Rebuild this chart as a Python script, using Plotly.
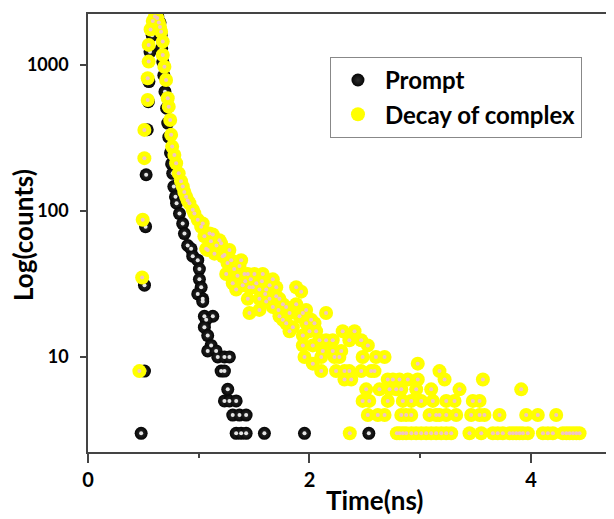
"""Fluorescence decay of the complex against the instrument prompt (log scale)."""

import plotly.graph_objects as go

# %%
# values: time in ns, counts per channel
prompt_time = [
    0.48, 0.51, 0.51, 0.52, 0.525, 0.535, 0.545, 0.55, 0.56, 0.58, 0.60, 0.63,
    0.65, 0.66, 0.665, 0.675, 0.685, 0.695, 0.71, 0.72, 0.73, 0.745, 0.755,
    0.765, 0.775, 0.79, 0.80, 0.826, 0.855, 0.871, 0.90, 0.931, 0.946, 0.991,
    1.006, 1.006, 1.022, 0.991, 1.036, 1.036, 1.051, 1.127, 1.067, 1.051,
    1.081, 1.112, 1.081, 1.157, 1.172, 1.232, 1.277, 1.202, 1.232, 1.262,
    1.232, 1.277, 1.338, 1.307, 1.368, 1.428, 1.338, 1.383, 1.428, 1.593,
    1.955, 2.536,
]
prompt_counts = [
    3, 8, 31, 78, 177, 360, 560, 770, 1230, 1600, 2000, 2150,
    1950, 1600, 1300, 1050, 850, 656, 505, 400, 320, 250, 210,
    181, 147, 125, 113, 96, 82, 70, 58, 55, 49, 46,
    40, 34, 30, 27, 25, 24, 19, 19, 18, 16,
    14, 12, 11, 11, 10, 10, 10, 8, 8, 6,
    5, 5, 5, 4, 4, 4, 3, 3, 3, 3,
    3, 3,
]

decay_time = [
    0.464, 0.489, 0.494, 0.509, 0.509, 0.539, 0.539, 0.548, 0.548, 0.565,
    0.585, 0.605, 0.625, 0.640, 0.650, 0.660, 0.675, 0.675, 0.690, 0.705,
    0.720, 0.729, 0.742, 0.751, 0.760, 0.780, 0.796, 0.819, 0.840, 0.856,
    0.870, 0.886, 0.900, 0.916, 0.946, 0.961, 0.991, 1.022, 1.036, 1.051,
    1.067, 1.081, 1.097, 1.110, 1.127, 1.142, 1.160, 1.187, 1.202, 1.217,
    1.232, 1.248, 1.260, 1.277, 1.293, 1.307, 1.320, 1.338, 1.350, 1.368,
    1.383, 1.397, 1.413, 1.420, 1.443, 1.443, 1.458, 1.458, 1.470, 1.488,
    1.503, 1.520, 1.548, 1.548, 1.548, 1.570, 1.578, 1.600, 1.609, 1.609,
    1.639, 1.640, 1.669, 1.669, 1.700, 1.700, 1.720, 1.729, 1.729, 1.759,
    1.760, 1.789, 1.790, 1.820, 1.820, 1.850, 1.880, 1.880, 1.910, 1.925,
    1.940, 1.940, 1.940, 1.955, 1.970, 1.970, 2.000, 2.015, 2.030, 2.030,
    2.045, 2.060, 2.090, 2.106, 2.106, 2.120, 2.150, 2.150, 2.210, 2.210,
    2.226, 2.240, 2.270, 2.287, 2.300, 2.316, 2.316, 2.360, 2.360, 2.364,
    2.377, 2.407, 2.467, 2.467, 2.480, 2.480, 2.512, 2.527, 2.527, 2.540,
    2.557, 2.587, 2.600, 2.617, 2.632, 2.678, 2.678, 2.707, 2.707, 2.723,
    2.753, 2.783, 2.789, 2.813, 2.813, 2.829, 2.829, 2.843, 2.843, 2.873,
    2.873, 2.888, 2.919, 2.919, 2.920, 2.963, 2.964, 2.978, 2.978, 3.009,
    3.009, 3.054, 3.084, 3.099, 3.099, 3.114, 3.144, 3.144, 3.174, 3.174,
    3.190, 3.220, 3.235, 3.235, 3.235, 3.280, 3.310, 3.325, 3.355, 3.445,
    3.460, 3.475, 3.536, 3.536, 3.551, 3.566, 3.580, 3.656, 3.700, 3.716,
    3.746, 3.807, 3.837, 3.867, 3.897, 3.912, 3.927, 3.957, 3.972, 4.062,
    4.108, 4.153, 4.198, 4.228, 4.288, 4.320, 4.349, 4.380, 4.410, 4.439,
]
decay_counts = [
    8, 35, 87, 230, 359, 576, 811, 1054, 1372, 1750,
    2000, 2150, 2100, 1950, 1820, 1690, 1445, 1170, 973, 789,
    591, 518, 420, 332, 276, 242, 212, 181, 160, 147,
    135, 125, 118, 113, 102, 96, 87, 78, 82, 67,
    55, 54, 70, 62, 69, 51, 58, 63, 60, 49,
    50, 37, 44, 54, 46, 32, 40, 29, 36, 42,
    46, 31, 37, 33, 37, 25, 30, 20, 34, 30,
    37, 32, 29, 25, 21, 33, 37, 27, 29, 24,
    25, 31, 34, 22, 30, 26, 21, 25, 19, 18,
    23, 22, 17, 15, 20, 16, 30, 23, 19, 28,
    20, 14, 12, 10, 21, 17, 15, 18, 12, 9,
    17, 15, 13, 10, 8, 11, 20, 13, 13, 11,
    10, 8, 10, 11, 15, 8, 7, 13, 8, 3,
    7, 15, 13, 8, 10, 5, 6, 12, 4, 5,
    8, 8, 10, 4, 6, 10, 4, 7, 5, 6,
    7, 6, 3, 7, 3, 6, 4, 5, 3, 4,
    3, 7, 5, 4, 3, 3, 6, 7, 9, 5,
    3, 3, 4, 6, 3, 5, 4, 3, 4, 8,
    3, 7, 5, 4, 3, 3, 5, 4, 6, 3,
    4, 5, 5, 4, 3, 7, 4, 3, 3, 4,
    3, 3, 3, 3, 3, 6, 3, 4, 3, 4,
    3, 3, 3, 4, 3, 3, 3, 3, 3, 3,
]

# %%
axis_col = "#444444"
font_family = "Lato, 'Open Sans', sans-serif"

fig = go.Figure()
fig.add_trace(
    go.Scatter(
        x=prompt_time,
        y=prompt_counts,
        mode="markers",
        name="Prompt",
        legendgroup="prompt",
        marker={
            "size": 13,
            "color": "#050505",
            "gradient": {"type": "radial", "color": "#2e2e2e"},
            "line": {"width": 0},
        },
    )
)
# small highlight so the black points read as spheres
fig.add_trace(
    go.Scatter(
        x=prompt_time,
        y=prompt_counts,
        mode="markers",
        showlegend=False,
        hoverinfo="skip",
        marker={"size": 4, "color": "#e6e6e6"},
    )
)
fig.add_trace(
    go.Scatter(
        x=decay_time,
        y=decay_counts,
        mode="markers",
        name="Decay of complex",
        legendgroup="decay",
        marker={"size": 14, "color": "#ffff00", "line": {"width": 0}},
    )
)
fig.add_trace(
    go.Scatter(
        x=decay_time,
        y=decay_counts,
        mode="markers",
        showlegend=False,
        hoverinfo="skip",
        marker={"size": 4, "color": "#f1c4c4"},
    )
)

fig.update_xaxes(
    range=[0, 4.75],
    tick0=0,
    dtick=2,
    ticks="outside",
    ticklen=9,
    tickwidth=1.5,
    tickcolor=axis_col,
    minor={"dtick": 1, "ticks": "outside", "ticklen": 4, "tickwidth": 1.5,
           "tickcolor": axis_col, "showgrid": False},
    showline=True,
    linecolor=axis_col,
    linewidth=1.5,
    mirror=True,
    showgrid=False,
    zeroline=False,
    tickfont={"size": 20, "weight": "bold", "color": "black"},
)
fig.update_yaxes(
    type="log",
    range=[0.349, 3.349],
    tickvals=[10, 100, 1000],
    ticktext=["10", "100", "1000"],
    ticks="outside",
    ticklen=6,
    tickwidth=1.5,
    tickcolor=axis_col,
    ticklabelstandoff=8,
    showline=True,
    linecolor=axis_col,
    linewidth=1.5,
    showgrid=False,
    zeroline=False,
    tickfont={"size": 18, "weight": "bold", "color": "black"},
)

fig.add_annotation(
    x=0.545, y=-0.11, xref="paper", yref="paper", text="Time(ns)",
    showarrow=False, xanchor="center", yanchor="middle",
    font={"size": 26, "weight": "bold", "color": "black"},
)
fig.add_annotation(
    x=-0.124, y=0.495, xref="paper", yref="paper", text="Log(counts)",
    showarrow=False, textangle=-90, xanchor="center", yanchor="middle",
    font={"size": 26, "weight": "bold", "color": "black"},
)

# the page body adds an 8 px offset, so the figure is 8 px smaller on each side
fig.update_layout(
    width=606,
    height=511,
    margin={"l": 80, "r": 0, "t": 6, "b": 67},
    plot_bgcolor="white",
    paper_bgcolor="white",
    font={"family": font_family, "color": "black"},
    legend={
        "x": 0.46,
        "y": 0.902,
        "xanchor": "left",
        "yanchor": "top",
        "bordercolor": "#888888",
        "borderwidth": 1,
        "bgcolor": "white",
        "font": {"size": 24, "weight": "bold"},
        "traceorder": "grouped",
        "tracegroupgap": 0,
        "itemwidth": 44,
    },
)

fig.write_html("out.html")
